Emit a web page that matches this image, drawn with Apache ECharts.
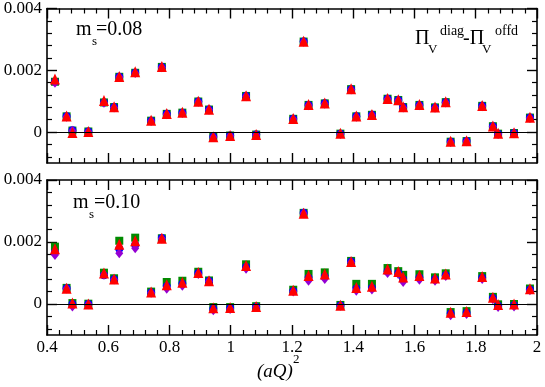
<!DOCTYPE html>
<html>
<head>
<meta charset="utf-8">
<script src="https://cdn.jsdelivr.net/npm/echarts@6/dist/echarts.min.js"></script>
<style>html,body{margin:0;padding:0;background:#fff}#c{width:545px;height:387px}</style>
</head>
<body>
<div id="c"></div>
<script>
// ---- data ----
const xVals = [0.426, 0.464, 0.483, 0.535, 0.586, 0.619, 0.636, 0.688, 0.740, 0.775, 0.791, 0.842, 0.894, 0.929, 0.943, 0.998, 1.050, 1.083, 1.204, 1.238, 1.254, 1.307, 1.358, 1.393, 1.410, 1.461, 1.512, 1.547, 1.563, 1.616, 1.667, 1.702, 1.718, 1.770, 1.821, 1.856, 1.873, 1.925, 1.977];

// top panel (m_s = 0.08)
const topGreen  = [0.00163, 0.00051, 0.00005, 0.00002, 0.00096, 0.00081, 0.00179, 0.00192, 0.00037, 0.00211, 0.00059, 0.00063, 0.00099, 0.00073, -0.00015, -0.00011, 0.00117, -0.00008, 0.00043, 0.00293, 0.00088, 0.00093, -0.00005, 0.00139, 0.00051, 0.00056, 0.00108, 0.00104, 0.00081, 0.00088, 0.00080, 0.00097, -0.00031, -0.00029, 0.00085, 0.00019, -0.00005, -0.00003, 0.00047];
const topBlue   = [0.00163, 0.00051, 0.00006, 0.00002, 0.00096, 0.00081, 0.00179, 0.00192, 0.00037, 0.00211, 0.00059, 0.00063, 0.00099, 0.00073, -0.00015, -0.00011, 0.00117, -0.00008, 0.00043, 0.00293, 0.00088, 0.00093, -0.00005, 0.00139, 0.00051, 0.00056, 0.00108, 0.00104, 0.00081, 0.00088, 0.00080, 0.00097, -0.00031, -0.00029, 0.00085, 0.00019, -0.00005, -0.00003, 0.00047];
const topPurple = [0.00160, 0.00050, 0.00004, 0.00001, 0.00095, 0.00080, 0.00178, 0.00191, 0.00036, 0.00210, 0.00058, 0.00062, 0.00098, 0.00072, -0.00016, -0.00012, 0.00116, -0.00009, 0.00042, 0.00292, 0.00087, 0.00092, -0.00006, 0.00138, 0.00050, 0.00055, 0.00107, 0.00103, 0.00080, 0.00087, 0.00079, 0.00096, -0.00032, -0.00030, 0.00084, 0.00018, -0.00006, -0.00004, 0.00046];
const topRed    = [0.00172, 0.00052, -0.00001, 0.00002, 0.00102, 0.00082, 0.00180, 0.00195, 0.00038, 0.00212, 0.00060, 0.00064, 0.00100, 0.00074, -0.00015, -0.00011, 0.00118, -0.00008, 0.00044, 0.00294, 0.00089, 0.00094, -0.00004, 0.00140, 0.00052, 0.00057, 0.00109, 0.00105, 0.00082, 0.00089, 0.00081, 0.00098, -0.00030, -0.00028, 0.00086, 0.00020, -0.00004, -0.00002, 0.00048];

// bottom panel (m_s = 0.10)
const botGreen  = [0.00185, 0.00052, 0.00003, 0.00001, 0.00101, 0.00083, 0.00204, 0.00214, 0.00040, 0.00212, 0.00071, 0.00075, 0.00104, 0.00076, -0.00010, -0.00010, 0.00128, -0.00007, 0.00046, 0.00294, 0.00097, 0.00102, -0.00003, 0.00139, 0.00065, 0.00065, 0.00116, 0.00106, 0.00094, 0.00096, 0.00086, 0.00099, -0.00026, -0.00023, 0.00090, 0.00023, -0.00001, 0.00000, 0.00050];
const botRed    = [0.00178, 0.00051, 0.00003, 0.00000, 0.00100, 0.00081, 0.00193, 0.00204, 0.00039, 0.00212, 0.00062, 0.00070, 0.00102, 0.00075, -0.00012, -0.00011, 0.00124, -0.00008, 0.00044, 0.00293, 0.00092, 0.00097, -0.00004, 0.00137, 0.00053, 0.00057, 0.00113, 0.00105, 0.00087, 0.00092, 0.00084, 0.00097, -0.00027, -0.00024, 0.00089, 0.00022, -0.00002, 0.00000, 0.00049];
const botBlue   = [0.00167, 0.00051, 0.00000, 0.00000, 0.00093, 0.00080, 0.00178, 0.00191, 0.00037, 0.00213, 0.00057, 0.00065, 0.00100, 0.00074, -0.00015, -0.00013, 0.00119, -0.00009, 0.00042, 0.00294, 0.00084, 0.00088, -0.00005, 0.00137, 0.00049, 0.00052, 0.00105, 0.00100, 0.00080, 0.00085, 0.00080, 0.00093, -0.00031, -0.00028, 0.00085, 0.00019, -0.00006, -0.00004, 0.00047];
const botPurple = [0.00158, 0.00050, -0.00008, -0.00001, 0.00095, 0.00079, 0.00164, 0.00180, 0.00036, 0.00211, 0.00049, 0.00059, 0.00097, 0.00073, -0.00020, -0.00016, 0.00114, -0.00010, 0.00040, 0.00293, 0.00075, 0.00081, -0.00006, 0.00135, 0.00043, 0.00047, 0.00100, 0.00097, 0.00071, 0.00078, 0.00075, 0.00090, -0.00036, -0.00032, 0.00081, 0.00015, -0.00010, -0.00008, 0.00044];

const yLabelVals = [0, 0.002, 0.004];
const yMinorVals = [-0.0008, -0.0004, 0.0004, 0.0008, 0.0012, 0.0016, 0.0024, 0.0028, 0.0032, 0.0036];

// ---- styles ----
const FONT = '"Liberation Serif", "Times New Roman", serif';
const C_GREEN = '#008b00', C_BLUE = '#0000ff', C_PURPLE = '#9400d3', C_RED = '#ff0000';

function pairs(arr) { return xVals.map((x, i) => [x, arr[i]]); }

const grids = [
  { left: 47, right: 8, top: 7, height: 156 },
  { left: 47, right: 8, top: 180, height: 155 }
];

function xAxes(gi, showLabels) {
  const common = {
    type: 'value', gridIndex: gi, min: 0.4, max: 2, interval: 0.2,
    splitLine: { show: false },
    axisLine: { show: true, onZero: false, lineStyle: { color: '#000', width: 1.6 } },
    axisTick: { show: true, inside: true, length: 10, lineStyle: { color: '#000', width: 1.4 } },
    minorTick: { show: true, splitNumber: 5, length: 5, lineStyle: { color: '#000', width: 1.2 } }
  };
  return [
    Object.assign({}, common, { position: 'bottom',
      axisLabel: { show: showLabels, color: '#000', fontFamily: FONT, fontSize: 17, margin: 4,
        formatter: v => String(+v.toFixed(1)) } }),
    Object.assign({}, common, { position: 'top', axisLabel: { show: false } })
  ];
}

function yAxes(gi) {
  const base = {
    type: 'value', gridIndex: gi, min: -0.001, max: 0.004,
    splitLine: { show: false }
  };
  return [
    Object.assign({}, base, { position: 'left',
      axisLine: { show: true, onZero: false, lineStyle: { color: '#000', width: 1.6 } },
      axisTick: { show: true, inside: true, length: 10, customValues: yLabelVals, lineStyle: { color: '#000', width: 1.4 } },
      axisLabel: { show: true, customValues: yLabelVals, color: '#000', fontFamily: FONT, fontSize: 17, margin: 5,
        formatter: v => (Math.abs(v) < 1e-12 ? '0' : v.toFixed(3)) } }),
    Object.assign({}, base, { position: 'left',
      axisLine: { show: false },
      axisTick: { show: true, inside: true, length: 5, customValues: yMinorVals, lineStyle: { color: '#000', width: 1.2 } },
      axisLabel: { show: false } }),
    Object.assign({}, base, { position: 'right',
      axisLine: { show: true, onZero: false, lineStyle: { color: '#000', width: 1.6 } },
      axisTick: { show: true, inside: true, length: 10, customValues: yLabelVals, lineStyle: { color: '#000', width: 1.4 } },
      axisLabel: { show: false } }),
    Object.assign({}, base, { position: 'right',
      axisLine: { show: false },
      axisTick: { show: true, inside: true, length: 5, customValues: yMinorVals, lineStyle: { color: '#000', width: 1.2 } },
      axisLabel: { show: false } })
  ];
}

function panelSeries(gi, g, b, p, r) {
  const xi = gi * 2, yi = gi * 4;
  const mk = (name, data, symbol, size, color, extra) => Object.assign({
    name, type: 'scatter', xAxisIndex: xi, yAxisIndex: yi, data: pairs(data),
    symbol, symbolSize: size, itemStyle: { color, opacity: 1 }, silent: true, animation: false
  }, extra || {});
  return [
    mk('green' + gi, g, 'rect', 8, C_GREEN, {
      markLine: { silent: true, symbol: 'none', animation: false, label: { show: false },
        lineStyle: { color: '#000', width: 1, type: 'solid' }, data: [{ yAxis: 0 }] }
    }),
    mk('blue' + gi, b, 'circle', 8, C_BLUE),
    mk('purple' + gi, p, 'diamond', [8, 10], C_PURPLE),
    mk('red' + gi, r, 'triangle', [10, 11], C_RED)
  ];
}

// y given as glyph baseline; converted to top of text box
function txt(x, base, s, size, italic) {
  return { type: 'text', x, y: base - Math.round(size * 0.85), silent: true,
    style: { text: s, fill: '#000', font: (italic ? 'italic ' : '') + size + 'px ' + FONT } };
}

const chart = echarts.init(document.getElementById('c'), null, { renderer: 'canvas' });
chart.setOption({
  animation: false,
  backgroundColor: '#fff',
  grid: grids,
  xAxis: [].concat(xAxes(0, false), xAxes(1, true)),
  yAxis: [].concat(yAxes(0), yAxes(1)),
  series: [].concat(
    panelSeries(0, topGreen, topBlue, topPurple, topRed),
    panelSeries(1, botGreen, botBlue, botPurple, botRed)
  ),
  graphic: [
    // m_s=0.08
    txt(76, 37, 'm', 20), txt(92, 46, 's', 13), txt(96, 37, '=0.08', 20),
    // m_s=0.10
    txt(73, 210, 'm', 20), txt(89, 219, 's', 13), txt(94, 210, '=0.10', 20),
    // Pi_V^diag - Pi_V^offd
    txt(415, 46, '\u03A0', 20), txt(428, 54, 'V', 13), txt(440, 36, 'diag', 14),
    txt(463, 46, '-\u03A0', 20), txt(482, 54, 'V', 13), txt(495, 36, 'offd', 14),
    // axis title (aQ)^2
    txt(257, 378, '(aQ)', 19, true), txt(293, 364, '2', 13)
  ]
});
</script>
</body>
</html>
